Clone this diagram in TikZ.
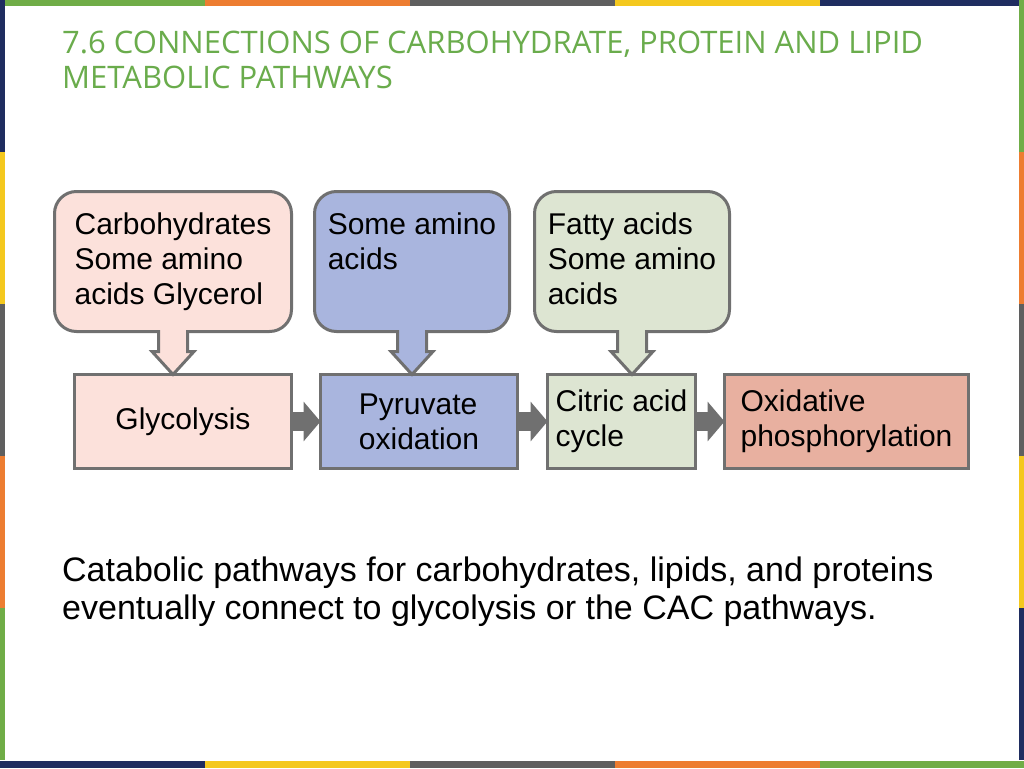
\documentclass[tikz,border=0pt]{standalone}
\usepackage{fontspec}
\setmainfont{Liberation Sans}
\newfontfamily\headfont{Open Sans}
\usetikzlibrary{arrows.meta,calc}
\definecolor{BarGreen}{RGB}{112,173,71}
\definecolor{BarOrange}{RGB}{237,125,49}
\definecolor{BarGray}{RGB}{95,95,95}
\definecolor{BarYellow}{RGB}{244,200,30}
\definecolor{BarNavy}{RGB}{31,45,96}
\definecolor{HeadGreen}{RGB}{106,172,76}
\definecolor{EdgeGray}{RGB}{112,112,112}
\definecolor{GlyPink}{RGB}{252,225,219}
\definecolor{PyrBlue}{RGB}{169,181,222}
\definecolor{CacSage}{RGB}{221,229,210}
\definecolor{OxSalmon}{RGB}{232,176,160}

\begin{document}
\begin{tikzpicture}[x=1pt,y=-1pt,
  src/.style={draw=EdgeGray,line width=3pt,rounded corners=22pt,outer sep=0pt,
              minimum height=140pt,align=left,font=\fontsize{30}{35}\selectfont,
              execute at end node={\vphantom{y}}},
  stage/.style={draw=EdgeGray,line width=3pt,outer sep=0pt,minimum height=94pt,
                align=left,font=\fontsize{30}{35}\selectfont},
  flow/.style={draw=EdgeGray,line width=19pt,-{Triangle[length=17pt,width=39pt]}},
]
\useasboundingbox (0,0) rectangle (1024,768);
\fill[white] (0,0) rectangle (1024,768);

% coloured frame
\foreach \c [count=\i from 0] in {BarGreen,BarOrange,BarGray,BarYellow,BarNavy}
  \fill[\c] (\i*205,0) rectangle ++(205,6);
\foreach \c [count=\i from 0] in {BarNavy,BarYellow,BarGray,BarOrange,BarGreen}
  \fill[\c] (\i*205,761) rectangle ++(205,7);
\foreach \c [count=\i from 0] in {BarNavy,BarYellow,BarGray,BarOrange,BarGreen}
  \fill[\c] (0,\i*152) rectangle ++(5,152);
\foreach \c [count=\i from 0] in {BarGreen,BarOrange,BarGray,BarYellow,BarNavy}
  \fill[\c] (1019,\i*152) rectangle ++(5,152);

\node[anchor=north west,inner sep=0pt,align=left,text=HeadGreen,
  font=\headfont\fontsize{31}{34.5}\selectfont] (title) at (62,31)
  {7.6 CONNECTIONS OF CARBOHYDRATE, PROTEIN AND LIPID\\METABOLIC PATHWAYS};

% sources
\node[src,fill=GlyPink,minimum width=237pt] (carb) at (173,261.5)
  {Carbohydrates\\Some amino\\acids Glycerol};
\node[src,fill=PyrBlue,minimum width=195pt] (amino) at (412,261.5)
  {Some amino\\acids\\};
\node[src,fill=CacSage,minimum width=195pt] (fatty) at (632,261.5)
  {Fatty acids\\Some amino\\acids};

% stages
\node[stage,fill=GlyPink,minimum width=217pt] (glyc) at (183,421.5) {Glycolysis};
\node[stage,fill=PyrBlue,minimum width=197pt] (pyr) at (419,421.5) {Pyruvate\\oxidation};
\node[stage,fill=CacSage,minimum width=148pt] (cac) at (621.5,421.5) {Citric acid\\cycle};
\node[stage,fill=OxSalmon,minimum width=244pt] (ox) at (846.5,421.5) {Oxidative\\phosphorylation};

% block arrows from sources
\foreach \s/\t/\c in {carb/glyc/GlyPink,amino/pyr/PyrBlue,fatty/cac/CacSage}{
  \fill[\c] ($(\s.south)+(-14.5,-4)$) -- ($(\s.south)+(-14.5,20)$) -- ($(\s.south)+(-21,20)$)
    -- (\s.south |- \t.north) -- ($(\s.south)+(21,20)$) -- ($(\s.south)+(14.5,20)$)
    -- ($(\s.south)+(14.5,-4)$) -- cycle;
  \draw[EdgeGray,line width=3pt] ($(\s.south)+(-14.5,-1.5)$) -- ($(\s.south)+(-14.5,20)$)
    -- ($(\s.south)+(-21,20)$) -- (\s.south |- \t.north) -- ($(\s.south)+(21,20)$)
    -- ($(\s.south)+(14.5,20)$) -- ($(\s.south)+(14.5,-1.5)$);
}

\draw[flow] (glyc.east) -- (pyr.west);
\draw[flow] (pyr.east) -- (cac.west);
\draw[flow] (cac.east) -- (ox.west);

\node[anchor=north west,inner sep=0pt,align=left,font=\fontsize{34}{38}\selectfont]
  (caption) at (62,557)
  {Catabolic pathways for carbohydrates, lipids, and proteins\\eventually connect to glycolysis or the CAC pathways.};
\end{tikzpicture}
\end{document}
